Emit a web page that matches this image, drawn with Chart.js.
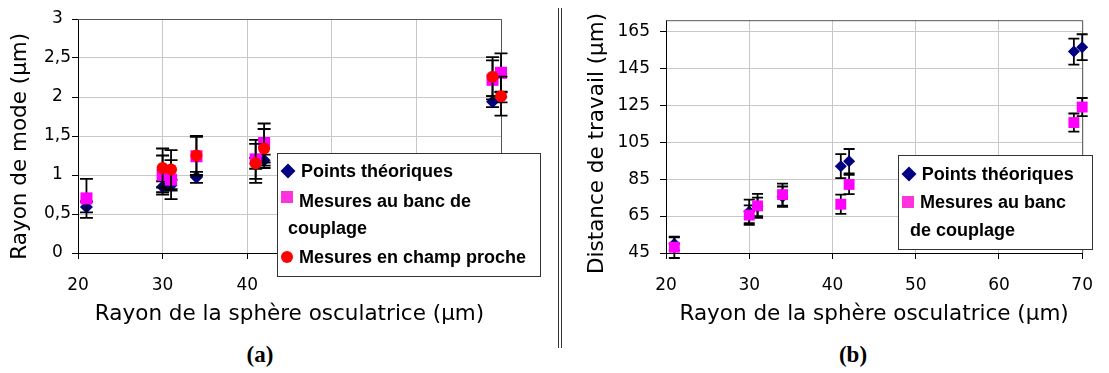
<!DOCTYPE html>
<html><head><meta charset="utf-8">
<script src="https://cdn.jsdelivr.net/npm/chart.js@4/dist/chart.umd.min.js"></script>
<style>
html,body{margin:0;padding:0;background:#fff;}
body{width:1109px;height:373px;position:relative;overflow:hidden;}
.box{position:absolute;top:0;height:340px;}
#wa{left:0;width:556px;}
#wb{left:564px;width:545px;}
.cap{position:absolute;top:355px;font:bold 23px "Liberation Serif",serif;color:#000;transform:translate(-50%,-50%);white-space:nowrap;}
.sep{position:absolute;top:8px;height:340px;width:1px;background:#333;}
</style></head>
<body>
<div class="box" id="wa"><canvas id="ca"></canvas></div>
<div class="box" id="wb"><canvas id="cb"></canvas></div>
<div class="sep" style="left:558px"></div>
<div class="sep" style="left:561px"></div>
<div class="cap" style="left:260px">(a)</div>
<div class="cap" style="left:853px">(b)</div>
<script>
// ---------- data ----------
const radii = [21, 30, 31, 34, 41, 42, 69, 70];
const radiiNear = [30, 31, 34, 41, 42, 69, 70];

// panel (a) : Rayon de mode (µm)
const modeTheo = [0.59, 0.85, 0.87, 0.97, 1.15, 1.19, 1.94, 2.00];
const modeTheoErr = [0.07, 0.07, 0.07, 0.07, 0.07, 0.07, 0.07, 0.07];
const modeBanc = [0.70, 1.00, 0.94, 1.24, 1.20, 1.41, 2.22, 2.31];
const modeBancErr = [0.25, 0.25, 0.25, 0.25, 0.25, 0.25, 0.25, 0.25];
const modeNear = [1.09, 1.07, 1.25, 1.15, 1.34, 2.26, 2.01];
const modeNearErr = [0.25, 0.25, 0.25, 0.25, 0.25, 0.25, 0.25];

// panel (b) : Distance de travail (µm)
const distTheo = [50, 67.5, 70, 75.5, 92, 94.7, 154, 156.4];
const distTheoErr = [3.5, 6.4, 5, 5.5, 6.5, 6.6, 7, 7];
const distBanc = [48.1, 65.5, 70.5, 76.6, 71.4, 82.1, 115.6, 124];
const distBancErr = [5.8, 5.3, 6.5, 6, 5.2, 5.2, 4.9, 4.9];

// ticks
const xTicks = [20, 30, 40, 50, 60, 70];
const xTickLabelsA = ['20', '30', '40', '', '', ''];
const xTickLabelsB = ['20', '30', '40', '50', '60', '70'];
const yTicksA = [0, 0.5, 1, 1.5, 2, 2.5, 3];
const yTickLabelsA = ['0', '0,5', '1', '1,5', '2', '2,5', '3'];
const yTicksB = [45, 65, 85, 105, 125, 145, 165];
const yTickLabelsB = ['45', '65', '85', '105', '125', '145', '165'];

// texts
const nameTheo = 'Points théoriques';
const nameBanc = 'Mesures au banc de couplage';
const nameNear = 'Mesures en champ proche';
const xTitle = 'Rayon de la sphère osculatrice (µm)';
const yTitleA = 'Rayon de mode (µm)';
const yTitleB = 'Distance de travail (µm)';

// ---------- helpers ----------
const pts = (xs, ys) => xs.map((x, i) => ({x: x, y: ys[i]}));
const NAVY = '#000080', PINK = '#ff00ff', RED = '#ff0000';
const tickFont = {family: 'DejaVu Sans', size: 17};
const titleFont = {family: 'DejaVu Sans', size: 21.5};

const errorBars = {
  id: 'errorBars',
  beforeDatasetDraw(chart, args, opts) {
    const ds = chart.data.datasets[args.index];
    if (!ds.errors) return;
    const ys = chart.scales.y, ctx = chart.ctx;
    ctx.save();
    ctx.strokeStyle = '#000';
    ctx.lineWidth = opts.lineWidth || 1.8;
    args.meta.data.forEach((p, i) => {
      const v = ds.data[i].y, e = ds.errors[i];
      const x = p.x;
      const y1 = ys.getPixelForValue(v + e), y2 = ys.getPixelForValue(v - e);
      const c = opts.cap || 6;
      ctx.beginPath();
      ctx.moveTo(x, y1); ctx.lineTo(x, y2);
      ctx.moveTo(x - c, y1); ctx.lineTo(x + c, y1);
      ctx.moveTo(x - c, y2); ctx.lineTo(x + c, y2);
      ctx.stroke();
    });
    ctx.restore();
  }
};

const frame = {
  id: 'frame',
  beforeDatasetsDraw(chart) {
    const a = chart.chartArea, ctx = chart.ctx;
    ctx.save();
    ctx.strokeStyle = '#555';
    ctx.lineWidth = 1;
    ctx.beginPath();
    ctx.moveTo(a.left, a.top + 0.5); ctx.lineTo(a.right + 0.5, a.top + 0.5);
    ctx.lineTo(a.right + 0.5, a.bottom);
    ctx.stroke();
    ctx.restore();
  }
};

function drawMarker(ctx, style, x, y, r) {
  ctx.beginPath();
  if (style === 'rectRot') {
    ctx.moveTo(x - r, y); ctx.lineTo(x, y - r); ctx.lineTo(x + r, y); ctx.lineTo(x, y + r); ctx.closePath();
  } else if (style === 'rect') {
    ctx.rect(x - r, y - r, 2 * r, 2 * r);
  } else {
    ctx.arc(x, y, r, 0, Math.PI * 2);
  }
  ctx.fill();
}

const boxLegend = {
  id: 'boxLegend',
  afterDraw(chart, args, o) {
    if (!o.items) return;
    const ctx = chart.ctx;
    ctx.save();
    ctx.fillStyle = '#fff';
    ctx.fillRect(o.x, o.y, o.w, o.h);
    ctx.strokeStyle = '#333';
    ctx.lineWidth = 1;
    ctx.strokeRect(o.x + 0.5, o.y + 0.5, o.w, o.h);
    o.items.forEach(it => {
      const ds = chart.data.datasets[it.ds];
      ctx.fillStyle = it.color || ds.backgroundColor;
      drawMarker(ctx, ds.pointStyle, it.mx, it.my, it.r);
      ctx.fillStyle = '#000';
      ctx.font = 'bold 18px "Liberation Sans", Arial, sans-serif';
      ctx.textBaseline = 'middle';
      ctx.textAlign = 'left';
      it.lines.forEach(l => ctx.fillText(l[0], l[1], l[2]));
    });
    ctx.restore();
  }
};

function axisX(labels, xt) {
  return {
    type: 'linear', min: 20, max: 70,
    afterFit: s => { s.height = 87; },
    afterBuildTicks: s => { s.ticks = xt.map(v => ({value: v})); },
    ticks: {callback: (v, i) => labels[i], font: tickFont, color: '#000', padding: 16, maxRotation: 0, autoSkip: false},
    grid: {color: '#c8c8c8', lineWidth: 1, tickLength: 6, tickColor: '#000'},
    border: {color: '#000', width: 1},
    title: {display: true, text: xTitle, font: titleFont, color: '#000', padding: {top: 0, bottom: 12.8}}
  };
}

function axisY(min, max, yt, labels, width, title, tpad, lpad, cross) {
  return {
    type: 'linear', min: min, max: max,
    afterFit: s => { s.width = width; },
    afterBuildTicks: s => { s.ticks = yt.map(v => ({value: v})); },
    ticks: {callback: (v, i) => labels[i], font: tickFont, color: '#000', padding: lpad, crossAlign: cross, autoSkip: false},
    grid: {color: '#c8c8c8', lineWidth: 1, tickLength: 6, tickColor: '#000'},
    border: {color: '#000', width: 1},
    title: {display: true, text: title, font: titleFont, color: '#000', padding: {top: tpad, bottom: 0}}
  };
}

// ---------- chart (a) ----------
new Chart(document.getElementById('ca'), {
  type: 'scatter',
  data: {datasets: [
    {label: nameTheo, order: 2, data: pts(radii, modeTheo), errors: modeTheoErr, pointStyle: 'rectRot', pointRadius: 6.5, backgroundColor: NAVY, borderWidth: 0, clip: false},
    {label: nameBanc, order: 1, data: pts(radii, modeBanc), errors: modeBancErr, pointStyle: 'rect', pointRadius: 8.5, backgroundColor: PINK, borderWidth: 0, clip: false},
    {label: nameNear, order: 0, data: pts(radiiNear, modeNear), errors: modeNearErr, pointStyle: 'circle', pointRadius: 6, backgroundColor: RED, borderWidth: 0, clip: false}
  ]},
  options: {
    responsive: true, maintainAspectRatio: false, animation: false, events: [],
    layout: {padding: {left: 0, top: 19, right: 55, bottom: 0}},
    plugins: {
      legend: {display: false}, tooltip: {enabled: false},
      errorBars: {cap: 6.5, lineWidth: 1.8},
      boxLegend: {x: 277, y: 153, w: 263, h: 123, items: [
        {ds: 0, mx: 288, my: 171, r: 7.5, lines: [[nameTheo, 301, 172]]},
        {ds: 1, mx: 287, my: 197, r: 6, color: '#ff33dd', lines: [['Mesures au banc de', 299, 202.5], ['couplage', 288, 229]]},
        {ds: 2, mx: 287, my: 257, r: 6, lines: [[nameNear, 299, 258]]}
      ]}
    },
    scales: {
      x: axisX(xTickLabelsA, xTicks),
      y: axisY(0, 3, yTicksA, yTickLabelsA, 78, yTitleA + '   ', 8, 1, 'center')
    }
  },
  plugins: [errorBars, frame, boxLegend]
});

// ---------- chart (b) ----------
new Chart(document.getElementById('cb'), {
  type: 'scatter',
  data: {datasets: [
    {label: nameTheo, order: 1, data: pts(radii, distTheo), errors: distTheoErr, pointStyle: 'rectRot', pointRadius: 6, backgroundColor: NAVY, borderWidth: 0, clip: false},
    {label: nameBanc, order: 0, data: pts(radii, distBanc), errors: distBancErr, pointStyle: 'rect', pointRadius: 7.7, backgroundColor: PINK, borderWidth: 0, clip: false}
  ]},
  options: {
    responsive: true, maintainAspectRatio: false, animation: false, events: [],
    layout: {padding: {left: 0, top: 19, right: 14, bottom: 0}},
    plugins: {
      legend: {display: false}, tooltip: {enabled: false},
      errorBars: {cap: 5.5, lineWidth: 1.8},
      boxLegend: {x: 334, y: 155, w: 194, h: 94, items: [
        {ds: 0, mx: 345, my: 174, r: 7.5, lines: [[nameTheo, 357.7, 175]]},
        {ds: 1, mx: 344, my: 202, r: 6, color: '#ff33dd', lines: [['Mesures au banc', 356, 203.5], ['de couplage', 346, 231.5]]}
      ]}
    },
    scales: {
      x: axisX(xTickLabelsB, xTicks),
      y: axisY(45, 171, yTicksB, yTickLabelsB, 102, yTitleB + '  ', 21, 10, 'near')
    }
  },
  plugins: [errorBars, frame, boxLegend]
});
</script>
</body></html>
